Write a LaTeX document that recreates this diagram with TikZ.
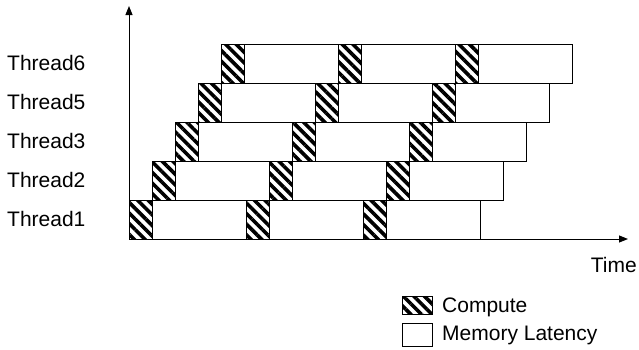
\documentclass[tikz,border=0pt]{standalone}
\usepackage{fontspec}
\setmainfont{Liberation Sans}
\usetikzlibrary{arrows.meta,patterns.meta}
\begin{document}
\begin{tikzpicture}[x=1pt,y=-1pt,
  lbl/.style={font=\fontsize{21}{25}\selectfont, inner sep=0pt},
  axis/.style={line width=1pt, -{Triangle[length=9pt,width=7pt]}},
  cbox/.style={draw=black, line width=0.8pt,
    pattern={Lines[angle=-45,distance=7.5pt,line width=3.6pt]}},
  mbox/.style={draw=black, line width=0.8pt, fill=white}]
\useasboundingbox (0,0) rectangle (639,349);
% axes
\coordinate (origin) at (129,239);
\coordinate (ytip) at (129,6);
\coordinate (xtip) at (628,239);
% thread rows: index and label
\foreach \i/\name in {0/Thread1, 1/Thread2, 2/Thread3, 3/Thread5, 4/Thread6} {
  \pgfmathsetmacro{\top}{200-39*\i}
  \pgfmathsetmacro{\bot}{239-39*\i}
  \pgfmathsetmacro{\xs}{129+23*\i}
  \pgfmathsetmacro{\base}{226.5-39*\i}
  \foreach \k in {0,1,2} {
    \pgfmathsetmacro{\a}{\xs+117*\k}
    \pgfmathsetmacro{\b}{\a+23}
    \pgfmathsetmacro{\c}{\a+117}
    \draw[mbox] (\b,\top) rectangle (\c,\bot);
    \draw[cbox] (\a,\top) rectangle (\b,\bot);
  }
  \node[lbl, anchor=base west] (lab\i) at (7,\base) {\name};
}
\draw[axis] (origin) -- (ytip);
\draw[axis] (origin) -- (xtip);
\node[lbl, anchor=base east] (time) at (637,272) {Time};
% legend
\draw[cbox] (402,296) rectangle (432,314);
\node[lbl, anchor=base west] (lcomp) at (442,312) {Compute};
\draw[mbox] (402,323) rectangle (432,346);
\node[lbl, anchor=base west] (lmem) at (442,340) {Memory Latency};
\end{tikzpicture}
\end{document}
